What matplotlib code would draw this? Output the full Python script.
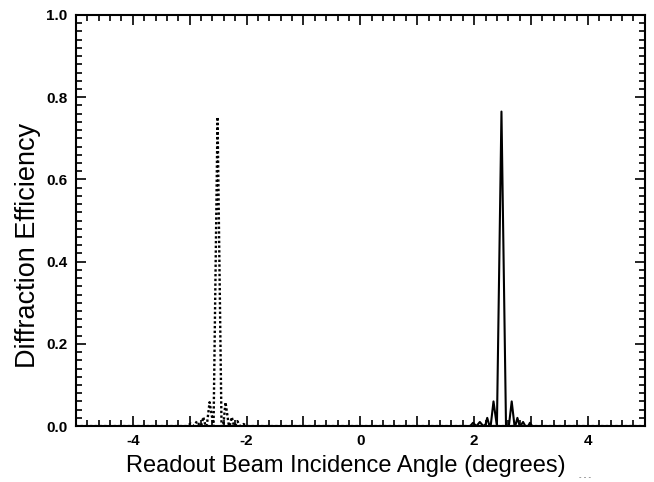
import matplotlib.pyplot as plt
from matplotlib.ticker import MultipleLocator, FuncFormatter

# readout angle (deg) vs diffraction efficiency
solid_x = [-5.0, 1.85, 1.93, 1.98, 2.04, 2.10, 2.16, 2.20, 2.23, 2.27,
           2.29, 2.34, 2.40, 2.48, 2.56, 2.61, 2.66, 2.71, 2.73, 2.76,
           2.80, 2.83, 2.86, 2.90, 2.95, 2.98, 3.02, 5.0]
solid_y = [0.0, 0.0, 0.0, 0.008, 0.0, 0.01, 0.0, 0.004, 0.02, 0.0,
           0.0, 0.06, 0.0, 0.765, 0.0, 0.0, 0.06, 0.0, 0.004, 0.02,
           0.0, 0.004, 0.01, 0.0, 0.0, 0.008, 0.0, 0.0]

dotted_x = [-5.0, -3.05, -2.98, -2.93, -2.87, -2.82, -2.79, -2.76, -2.72,
            -2.70, -2.65, -2.58, -2.51, -2.44, -2.41, -2.37, -2.31, -2.29,
            -2.26, -2.22, -2.19, -2.16, -2.12, -2.05, -2.0, 5.0]
dotted_y = [0.0, 0.0, 0.006, 0.0, 0.012, 0.0, 0.004, 0.022, 0.0,
            0.0, 0.058, 0.0, 0.752, 0.0, 0.0, 0.058, 0.0, 0.004,
            0.022, 0.0, 0.004, 0.012, 0.0, 0.005, 0.0, 0.0]

x_ticks = [-4, -2, 0, 2, 4]

fig = plt.figure(figsize=(6.54, 4.82), dpi=100)
ax = fig.add_axes([0.116, 0.116, 0.870, 0.853])

ax.plot(solid_x, solid_y, color='black', lw=1.5)
ax.plot(dotted_x, dotted_y, color='black', lw=1.7, ls=(0, (1, 1)))

ax.set_xlim(-5, 5)
ax.set_ylim(0, 1.0)

ax.xaxis.set_major_locator(MultipleLocator(1))
ax.xaxis.set_minor_locator(MultipleLocator(0.2))
ax.xaxis.set_major_formatter(FuncFormatter(
    lambda v, p: f"{int(round(v))}" if round(v) in x_ticks else ""))
ax.yaxis.set_major_locator(MultipleLocator(0.2))
ax.yaxis.set_minor_locator(MultipleLocator(0.02))
ax.yaxis.set_major_formatter(FuncFormatter(lambda v, p: f"{v:.1f}"))

ax.tick_params(which='both', direction='in', top=True, right=True, width=1.2)
ax.tick_params(which='major', length=7)
ax.tick_params(which='minor', length=4)
ax.tick_params(axis='both', which='major', pad=6)
for lab in ax.get_xticklabels() + ax.get_yticklabels():
    lab.set_family('Liberation Sans')
    lab.set_fontweight('bold')
    lab.set_fontsize(11)
for s in ax.spines.values():
    s.set_linewidth(1.5)

ax.set_xlabel('Readout Beam Incidence Angle (degrees)', family='Liberation Sans',
              fontsize=17)
ax.set_ylabel('Diffraction Efficiency', family='Liberation Sans', fontsize=19.5)
ax.xaxis.set_label_coords(0.475, -0.07)
ax.yaxis.set_label_coords(-0.062, 0.44)

# small scanner mark to the right of the x label
fig.text(0.885, 0.004, '- - -', fontsize=5, color='#555555', va='bottom')

fig.savefig('out.png', dpi=100)
